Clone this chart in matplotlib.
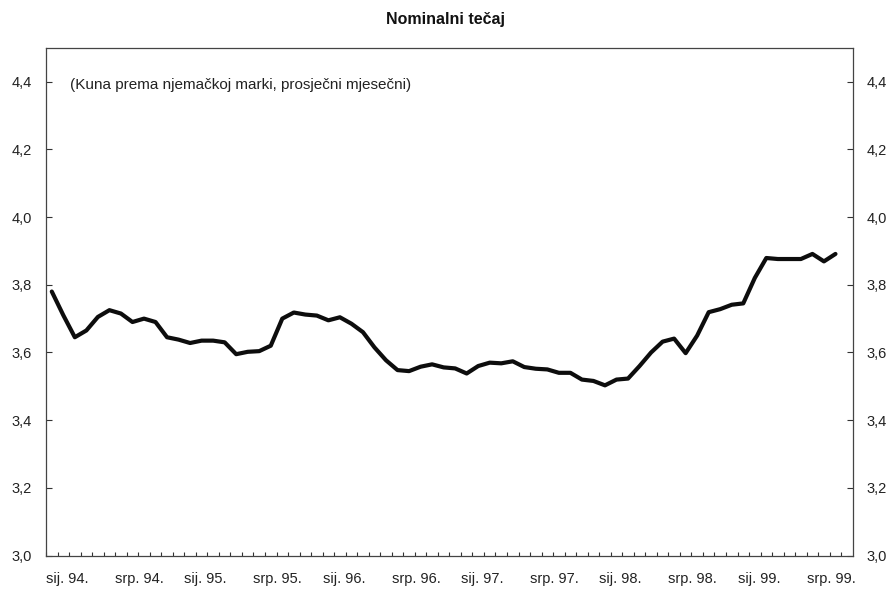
import matplotlib
matplotlib.use("Agg")
import matplotlib.pyplot as plt
import numpy as np

plt.rcParams['font.family'] = ['Liberation Sans', 'DejaVu Sans']

# mjesečni tečaj HRK/DEM, sij. 94. - ruj. 99.
tecaj = [3.78, 3.71, 3.645, 3.665, 3.705, 3.725, 3.715, 3.69, 3.70, 3.69,
         3.645, 3.638, 3.628, 3.635, 3.635, 3.63, 3.595, 3.602, 3.604, 3.62,
         3.70, 3.718, 3.712, 3.709, 3.695, 3.704, 3.685, 3.66, 3.615, 3.577,
         3.548, 3.545, 3.558, 3.565, 3.556, 3.553, 3.538, 3.56, 3.57, 3.568,
         3.574, 3.557, 3.552, 3.55, 3.54, 3.54, 3.52, 3.516, 3.503, 3.52,
         3.523, 3.56, 3.60, 3.632, 3.641, 3.598, 3.65, 3.719, 3.728, 3.741,
         3.745, 3.82, 3.879, 3.876, 3.876, 3.876, 3.891, 3.869, 3.891]
n_kategorija = 70  # os ide do lis. 99.
oznake = ['sij. 94.', 'srp. 94.', 'sij. 95.', 'srp. 95.', 'sij. 96.', 'srp. 96.',
          'sij. 97.', 'srp. 97.', 'sij. 98.', 'srp. 98.', 'sij. 99.', 'srp. 99.']
y_oznake = [3.0, 3.2, 3.4, 3.6, 3.8, 4.0, 4.2, 4.4]

fig = plt.figure(figsize=(8.92, 5.94), dpi=100)
ax = fig.add_axes([0.0516, 0.0645, 0.9044, 0.8552])

x = np.arange(len(tecaj))
ax.plot(x, tecaj, color='#0d0d0d', lw=3.0, solid_joinstyle='round', solid_capstyle='round')

ax.set_xlim(-0.5, n_kategorija - 0.5)
ax.set_ylim(3.0, 4.5)

pozicije = np.arange(0, 6 * len(oznake), 6) - 0.5
ax.set_xticks(pozicije)
ax.set_xticklabels(oznake, ha='left')
ax.set_xticks(np.arange(n_kategorija) - 0.5, minor=True)
ax.tick_params(axis='x', which='both', direction='in', length=3, width=0.8,
               color='#333333', pad=12, labelsize=10.5, labelcolor='#222222')

ax.set_yticks(y_oznake)
ax.set_yticklabels([f'{v:.1f}'.replace('.', ',') for v in y_oznake])
ax.tick_params(axis='y', which='both', direction='in', length=4, width=0.8,
               color='#333333', pad=10, labelsize=10.5, labelcolor='#222222',
               left=True, right=True, labelleft=True, labelright=True)

for s in ax.spines.values():
    s.set_color('#444444')
    s.set_linewidth(0.9)

ax.text(0.03, 0.927, '(Kuna prema njemačkoj marki, prosječni mjesečni)',
        transform=ax.transAxes, fontsize=11, color='#222222', va='center', ha='left')
fig.text(0.5, 0.968, 'Nominalni tečaj', ha='center', va='center',
         fontsize=11.5, fontweight='bold', color='#111111')

fig.savefig('out.png', dpi=100)
